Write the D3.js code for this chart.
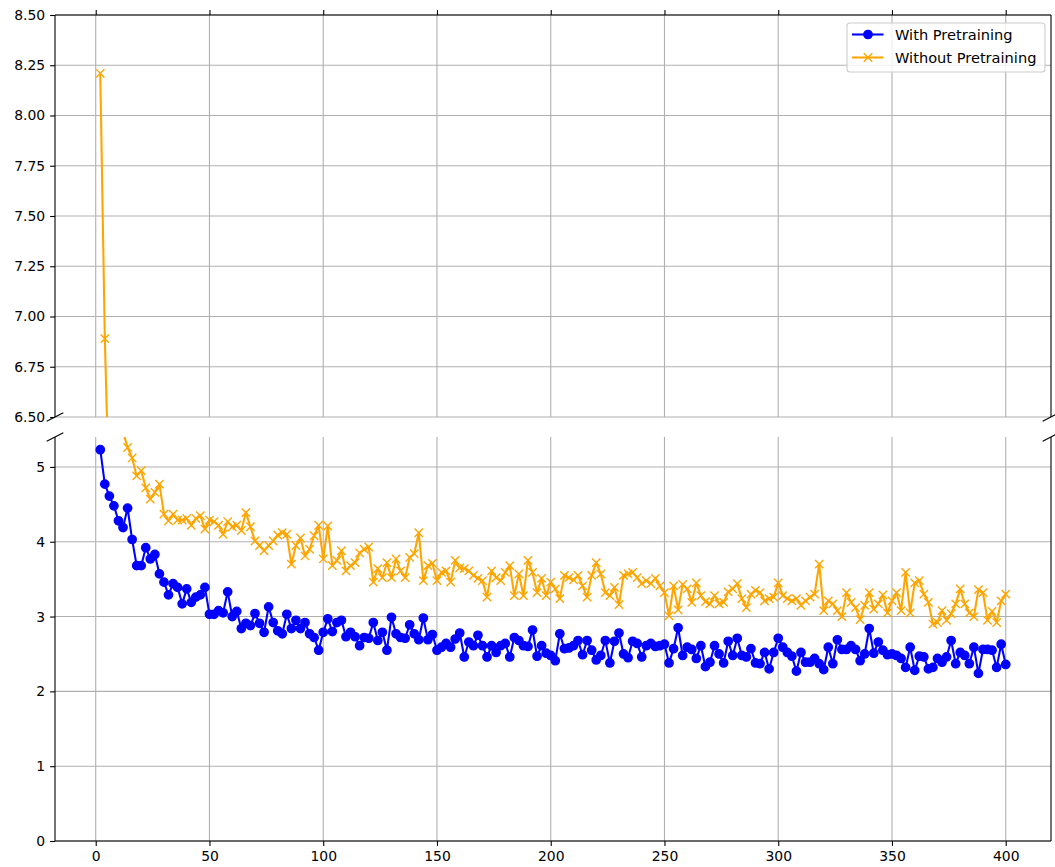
<!DOCTYPE html>
<html>
<head>
<meta charset="utf-8">
<script src="https://cdnjs.cloudflare.com/ajax/libs/d3/7.8.5/d3.min.js"></script>
<style>
  body { margin: 0; background: #fff; }
  svg { display: block; font-family: "DejaVu Sans", sans-serif; }
</style>
</head>
<body>
<svg id="chart" width="1055" height="867"></svg>
<script>
"use strict";

// epochs 2, 4, ... 400
var epochs = d3.range(2, 401, 2);

var seriesNames = ["With Pretraining", "Without Pretraining"];

var withPretraining = [
  // 2 - 100
  5.23,4.77,4.61,4.48,4.28,4.19,4.45,4.03,3.68,3.68,3.92,3.77,3.83,3.57,3.46,3.29,3.44,3.39,3.17,3.37,
  3.19,3.26,3.29,3.39,3.03,3.03,3.08,3.05,3.33,3.00,3.07,2.84,2.91,2.88,3.04,2.91,2.79,3.13,2.92,2.81,
  2.77,3.03,2.84,2.95,2.84,2.92,2.77,2.72,2.55,2.79,
  // 102 - 200
  2.97,2.80,2.92,2.95,2.73,2.79,2.73,2.61,2.72,2.71,2.92,2.68,2.79,2.55,2.99,
  2.77,2.72,2.71,2.89,2.77,2.69,2.98,2.69,2.76,2.55,2.59,2.64,2.59,2.70,2.78,2.46,2.66,2.61,2.75,2.61,
  2.46,2.61,2.52,2.61,2.64,2.46,2.72,2.68,2.61,2.60,2.82,2.47,2.61,2.51,2.48,
  // 202 - 300
  2.41,2.77,
  2.57,2.58,2.61,2.68,2.49,2.68,2.55,2.42,2.48,2.68,2.38,2.67,2.78,2.50,2.45,2.67,2.64,2.46,2.61,2.64,
  2.60,2.61,2.63,2.38,2.57,2.85,2.48,2.59,2.56,2.44,2.61,2.33,2.39,2.61,2.50,2.38,2.67,2.48,2.71,2.48,
  2.46,2.57,2.38,2.37,2.52,2.30,2.52,2.71,
  // 302 - 400
  2.59,2.52,2.47,2.27,2.52,2.39,2.39,2.44,2.37,2.29,2.59,2.37,2.69,2.56,2.56,2.61,2.56,2.41,2.50,2.84,
  2.51,2.66,2.55,2.49,2.50,2.48,2.44,2.32,2.59,2.28,2.47,2.46,2.30,2.32,2.44,2.39,2.46,2.68,2.37,2.52,
  2.48,2.37,2.59,2.24,2.56,2.56,2.55,2.32,2.63,2.36
];

var withoutPretraining = [
  // 2 - 100
  8.21,6.89,6.05,5.80,5.65,5.47,5.26,5.12,4.88,4.95,4.72,4.57,4.66,4.77,4.37,4.28,4.37,4.29,4.29,4.31,
  4.22,4.31,4.35,4.17,4.29,4.27,4.22,4.10,4.27,4.20,4.22,4.15,4.39,4.20,4.01,3.95,3.88,3.95,4.01,4.09,
  4.12,4.10,3.70,3.95,4.05,3.81,3.90,4.08,4.22,3.77,
  // 102 - 200
  4.21,3.68,3.75,3.88,3.61,3.68,3.72,3.85,3.90,3.93,3.46,3.64,3.52,3.72,3.52,3.77,3.61,3.52,3.79,3.84,
  4.12,3.48,3.68,3.71,3.48,3.59,3.61,3.46,3.75,3.65,3.64,3.61,3.55,3.51,3.48,3.26,3.61,3.52,3.48,3.59,
  3.68,3.28,3.57,3.28,3.75,3.59,3.32,3.51,3.28,3.46,
  // 202 - 300
  3.37,3.24,3.55,3.52,3.49,3.55,3.41,3.26,3.55,3.72,3.57,3.32,3.28,3.39,3.16,3.55,3.57,3.59,3.52,3.44,
  3.48,3.44,3.51,3.41,3.32,3.01,3.41,3.09,3.43,3.37,3.19,3.45,3.28,3.20,3.17,3.28,3.17,3.19,3.33,3.37,
  3.44,3.24,3.12,3.30,3.35,3.32,3.21,3.24,3.26,3.45,
  // 302 - 400
  3.28,3.24,3.21,3.24,3.15,3.21,3.26,3.30,3.70,3.08,3.21,3.17,3.08,3.00,3.32,3.19,3.12,2.96,3.15,3.32,
  3.10,3.17,3.29,3.05,3.21,3.32,3.08,3.59,3.05,3.45,3.48,3.30,3.19,2.90,2.92,3.08,2.95,3.04,3.17,3.37,
  3.17,3.05,3.00,3.36,3.32,2.95,3.07,2.92,3.21,3.30
];

var xTicks = [0, 50, 100, 150, 200, 250, 300, 350, 400];
var yTicksTop = [6.50, 6.75, 7.00, 7.25, 7.50, 7.75, 8.00, 8.25, 8.50];
var yTicksBottom = [0, 1, 2, 3, 4, 5];

var left = 55, right = 1051;
var topPanel = {y0: 15, y1: 417};
var botPanel = {y0: 437, y1: 841};
var tickLen = 4.9, fontPx = 13.9, legendFontPx = 14.6;

var svg = d3.select("#chart");

var x = d3.scaleLinear().domain([-17.9, 419.9]).range([left, right]);
var yTop = d3.scaleLinear().domain([6.5, 8.5]).range([topPanel.y1, topPanel.y0]);
var yBot = d3.scaleLinear().domain([0, 5.4]).range([botPanel.y1, botPanel.y0]);

var defs = svg.append("defs");
defs.append("clipPath").attr("id", "clip-top").append("rect")
    .attr("x", left).attr("y", topPanel.y0)
    .attr("width", right - left).attr("height", topPanel.y1 - topPanel.y0);
defs.append("clipPath").attr("id", "clip-bot").append("rect")
    .attr("x", left).attr("y", botPanel.y0)
    .attr("width", right - left).attr("height", botPanel.y1 - botPanel.y0);

var series = [
  {name: seriesNames[0], values: withPretraining, color: "#0000ff", marker: "o"},
  {name: seriesNames[1], values: withoutPretraining, color: "#ffa500", marker: "x"}
];

function drawPanel(y, panel, yTicks, fmt, clipId) {
  var g = svg.append("g");

  // grid
  g.selectAll(".vgrid").data(xTicks).enter().append("line")
    .attr("x1", function(d) { return x(d); })
    .attr("x2", function(d) { return x(d); })
    .attr("y1", panel.y0).attr("y2", panel.y1)
    .attr("stroke", "#b0b0b0").attr("stroke-width", 1.1);
  g.selectAll(".hgrid").data(yTicks).enter().append("line")
    .attr("x1", left).attr("x2", right)
    .attr("y1", function(d) { return y(d); })
    .attr("y2", function(d) { return y(d); })
    .attr("stroke", "#b0b0b0").attr("stroke-width", 1.1);

  var plot = g.append("g").attr("clip-path", "url(#" + clipId + ")");

  var line = d3.line()
    .x(function(d, i) { return x(epochs[i]); })
    .y(function(d) { return y(d); });

  series.forEach(function(s) {
    plot.append("path")
      .datum(s.values)
      .attr("d", line)
      .attr("fill", "none")
      .attr("stroke", s.color)
      .attr("stroke-width", 2.08)
      .attr("stroke-linejoin", "round");

    if (s.marker == "o") {
      plot.selectAll(null).data(s.values).enter().append("circle")
        .attr("cx", function(d, i) { return x(epochs[i]); })
        .attr("cy", function(d) { return y(d); })
        .attr("r", 4.17)
        .attr("fill", s.color)
        .attr("stroke", s.color)
        .attr("stroke-width", 1.39);
    } else {
      plot.selectAll(null).data(s.values).enter().append("path")
        .attr("d", function(d, i) {
          var cx = x(epochs[i]), cy = y(d), r = 4.17;
          return "M" + (cx - r) + "," + (cy - r) + "L" + (cx + r) + "," + (cy + r) +
                 "M" + (cx - r) + "," + (cy + r) + "L" + (cx + r) + "," + (cy - r);
        })
        .attr("stroke", s.color)
        .attr("stroke-width", 1.39)
        .attr("fill", "none");
    }
  });

  // y axis
  var yAxis = g.append("g")
    .attr("transform", "translate(" + left + ",0)")
    .call(d3.axisLeft(y).tickValues(yTicks).tickFormat(fmt)
      .tickSize(tickLen).tickPadding(4.9));
  yAxis.select(".domain").remove();
  yAxis.selectAll("line").attr("stroke", "#000").attr("stroke-width", 1.1);
  yAxis.selectAll("text").attr("font-size", fontPx).attr("fill", "#000")
    .attr("font-family", "DejaVu Sans");

  // spines (left and right only)
  g.append("line").attr("x1", left).attr("x2", left)
    .attr("y1", panel.y0).attr("y2", panel.y1)
    .attr("stroke", "#000").attr("stroke-width", 1.1);
  g.append("line").attr("x1", right).attr("x2", right)
    .attr("y1", panel.y0).attr("y2", panel.y1)
    .attr("stroke", "#000").attr("stroke-width", 1.1);

  return g;
}

var gTop = drawPanel(yTop, topPanel, yTicksTop, d3.format(".2f"), "clip-top");
var gBot = drawPanel(yBot, botPanel, yTicksBottom, d3.format("d"), "clip-bot");

// top panel: x ticks on top, no labels, top spine
var xTopAxis = gTop.append("g")
  .attr("transform", "translate(0," + topPanel.y0 + ")")
  .call(d3.axisTop(x).tickValues(xTicks).tickFormat("").tickSize(tickLen));
xTopAxis.select(".domain").remove();
xTopAxis.selectAll("line").attr("stroke", "#000").attr("stroke-width", 1.1);
gTop.append("line").attr("x1", left).attr("x2", right)
  .attr("y1", topPanel.y0).attr("y2", topPanel.y0)
  .attr("stroke", "#000").attr("stroke-width", 1.1);

// bottom panel: x axis with labels, bottom spine
var xBotAxis = gBot.append("g")
  .attr("transform", "translate(0," + botPanel.y1 + ")")
  .call(d3.axisBottom(x).tickValues(xTicks).tickFormat(d3.format("d"))
    .tickSize(tickLen).tickPadding(4.9));
xBotAxis.select(".domain").remove();
xBotAxis.selectAll("line").attr("stroke", "#000").attr("stroke-width", 1.1);
xBotAxis.selectAll("text").attr("font-size", fontPx).attr("fill", "#000")
  .attr("font-family", "DejaVu Sans");
gBot.append("line").attr("x1", left).attr("x2", right)
  .attr("y1", botPanel.y1).attr("y2", botPanel.y1)
  .attr("stroke", "#000").attr("stroke-width", 1.1);

// break marks
var breaks = [[left, topPanel.y1], [right, topPanel.y1], [left, botPanel.y0], [right, botPanel.y0]];
svg.selectAll(".brk").data(breaks).enter().append("line")
  .attr("x1", function(d) { return d[0] - 8.3; })
  .attr("y1", function(d) { return d[1] + 4.2; })
  .attr("x2", function(d) { return d[0] + 8.3; })
  .attr("y2", function(d) { return d[1] - 4.2; })
  .attr("stroke", "#000").attr("stroke-width", 1.1);

// legend
var legend = svg.append("g").attr("transform", "translate(847,23)");
legend.append("rect")
  .attr("width", 198).attr("height", 49).attr("rx", 3)
  .attr("fill", "#fff").attr("fill-opacity", 0.8)
  .attr("stroke", "#cccccc").attr("stroke-width", 1.1);

series.forEach(function(s, i) {
  var row = legend.append("g").attr("transform", "translate(0," + (11.5 + i * 23) + ")");
  row.append("line").attr("x1", 5).attr("x2", 36.5)
    .attr("stroke", s.color).attr("stroke-width", 2.08);
  if (s.marker == "o") {
    row.append("circle").attr("cx", 21).attr("cy", 0).attr("r", 4.17)
      .attr("fill", s.color).attr("stroke", s.color).attr("stroke-width", 1.39);
  } else {
    row.append("path").attr("d", "M16.8,-4.17L25.2,4.17M16.8,4.17L25.2,-4.17")
      .attr("stroke", s.color).attr("stroke-width", 1.39);
  }
  row.append("text")
    .attr("x", 48).attr("y", 0).attr("dy", "0.35em")
    .attr("font-size", legendFontPx).attr("fill", "#000")
    .text(s.name);
});
</script>
</body>
</html>
